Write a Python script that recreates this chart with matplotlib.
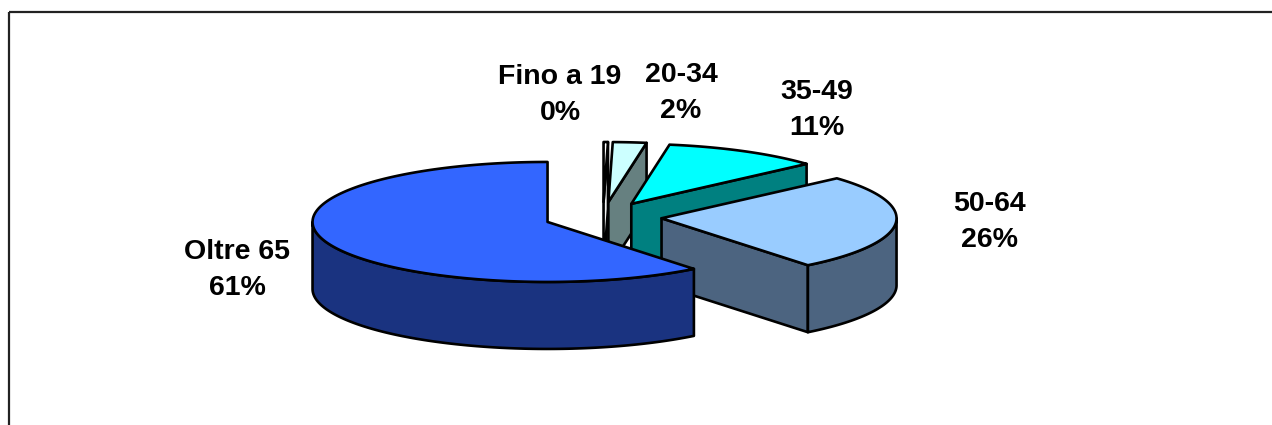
import numpy as np
import matplotlib
matplotlib.use("Agg")
from matplotlib import pyplot as plt
from matplotlib.patches import Polygon, Rectangle

# age bands and share of people (%)
labels = ["Fino a 19", "20-34", "35-49", "50-64", "Oltre 65"]
values = [0.3, 2.3, 10.8, 25.9, 60.7]
top_colors = ["#FFFFFF", "#CCFFFF", "#00FFFF", "#99CCFF", "#3366FF"]
side_colors = ["#F2F2F2", "#668080", "#008080", "#4C6480", "#1A3380"]

# label anchors (pixel coords, y down)
label_xy = [(560, 95), (681, 93), (817, 110), (989, 222), (237, 270)]

# pie layout in pixels
CX, CY = 603, 217
RX, RY = 235, 60
DEPTH = 67
EXPLODE = 0.25
LW = 1.9


def rim(apex, th, z=0.0):
    return np.column_stack([apex[0] + RX * np.sin(th),
                            apex[1] - RY * np.cos(th) + z])


def slice_parts(t0, t1):
    mid = (t0 + t1) / 2
    apex = (CX + EXPLODE * RX * np.sin(mid), CY - EXPLODE * RY * np.cos(mid))
    parts = []
    # radial side faces
    if np.sin(t0) < -1e-6:
        a, b = rim(apex, np.array([t0]))[0], rim(apex, np.array([t0]), DEPTH)[0]
        parts.append(("side", [apex, a, b, (apex[0], apex[1] + DEPTH)]))
    if np.sin(t1) > 1e-6:
        a, b = rim(apex, np.array([t1]))[0], rim(apex, np.array([t1]), DEPTH)[0]
        parts.append(("side", [apex, a, b, (apex[0], apex[1] + DEPTH)]))
    # curved outer wall, front half only
    w0, w1 = max(t0, np.pi / 2), min(t1, 3 * np.pi / 2)
    if w1 > w0:
        th = np.linspace(w0, w1, 120)
        pts = np.vstack([rim(apex, th), rim(apex, th[::-1], DEPTH)])
        parts.append(("side", pts))
    th = np.linspace(t0, t1, max(int((t1 - t0) * 60), 4))
    parts.append(("top", np.vstack([[apex], rim(apex, th)])))
    return mid, parts


fig = plt.figure(figsize=(12.72, 4.25), dpi=100)
ax = fig.add_axes([0, 0, 1, 1])
ax.set_xlim(0, 1272)
ax.set_ylim(425, 0)
ax.axis("off")

frac = np.array(values) / sum(values)
edges = np.concatenate([[0], np.cumsum(frac)]) * 2 * np.pi

slices = []
for i in range(len(values)):
    mid, parts = slice_parts(edges[i], edges[i + 1])
    slices.append((-np.cos(mid), i, parts))

# back slices first
for _, i, parts in sorted(slices):
    for kind, pts in parts:
        fc = top_colors[i] if kind == "top" else side_colors[i]
        ax.add_patch(Polygon(pts, closed=True, facecolor=fc, edgecolor="black",
                             linewidth=LW, joinstyle="round"))

for i, (lx, ly) in enumerate(label_xy):
    ax.text(lx, ly, "%s\n%.0f%%" % (labels[i], values[i]), ha="center", va="center",
            fontsize=20.5, fontweight="bold", family=["Liberation Sans", "DejaVu Sans"],
            linespacing=1.5)

# chart area border
ax.add_patch(Rectangle((9, 12), 1400, 600, fill=False, edgecolor="#222222",
                       linewidth=1.6, clip_on=False))

fig.savefig("out.png", dpi=100)
